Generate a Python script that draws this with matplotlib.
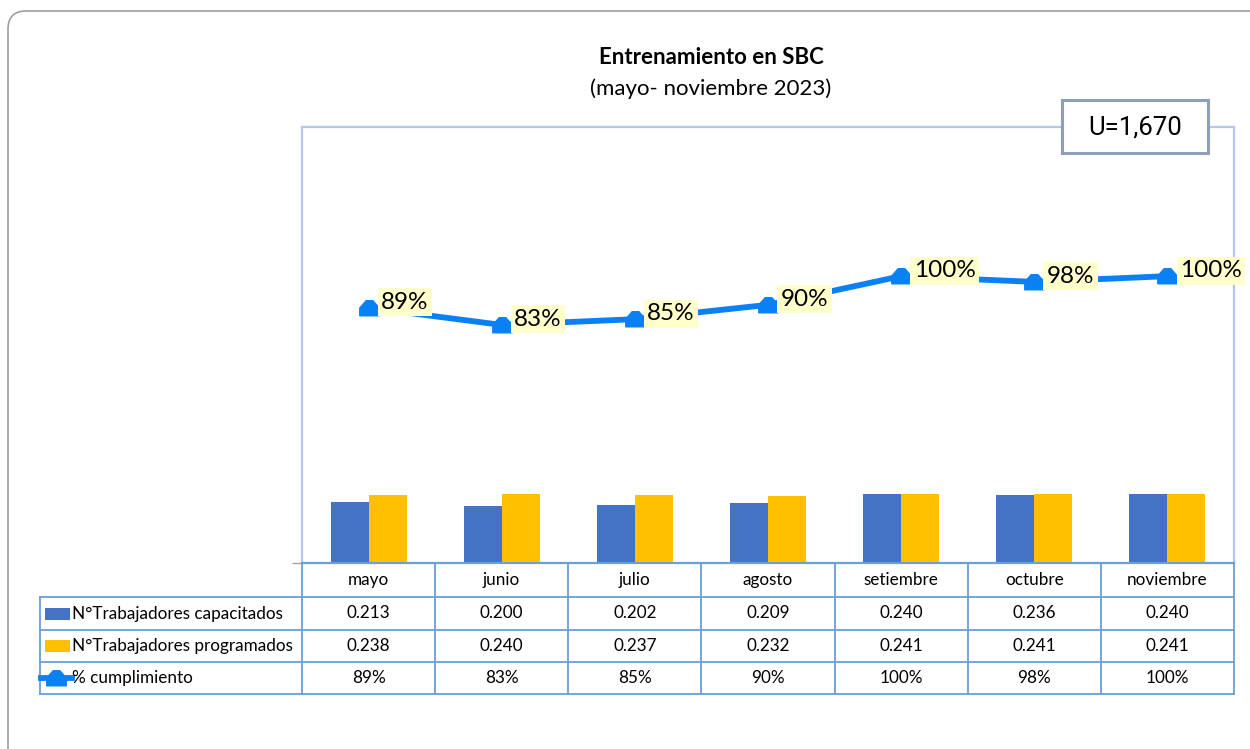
import matplotlib.pyplot as plt
import matplotlib.transforms as mtransforms
from matplotlib.patches import FancyBboxPatch, Rectangle
from matplotlib.lines import Line2D
from matplotlib.path import Path
import numpy as np

# datos
meses = ['mayo', 'junio', 'julio', 'agosto', 'setiembre', 'octubre', 'noviembre']
capacitados = [0.213, 0.200, 0.202, 0.209, 0.240, 0.236, 0.240]
programados = [0.238, 0.240, 0.237, 0.232, 0.241, 0.241, 0.241]
cumplimiento = [0.89, 0.83, 0.85, 0.90, 1.00, 0.98, 1.00]
series = ['N°Trabajadores capacitados', 'N°Trabajadores programados', '% cumplimiento']

AZUL = '#4472C4'
NARANJA = '#FFC000'
LINEA = '#0A80F5'
BORDE_TABLA = '#6A9FD8'
FONT = ['Lato', 'DejaVu Sans']

plt.rcParams['font.family'] = FONT

# marcador tipo "casita" como el de Excel
casa = Path([(-1, -0.75), (1, -0.75), (1, 0.05), (0.35, 0.8), (-0.35, 0.8), (-1, 0.05),
             (-1, -0.75)], closed=True)

W, H = 1250, 749
fig = plt.figure(figsize=(W / 100, H / 100), dpi=100)

# fondo en coordenadas de pixel
bg = fig.add_axes([0, 0, 1, 1])
bg.set_xlim(0, W)
bg.set_ylim(H, 0)
bg.axis('off')
bg.add_patch(FancyBboxPatch((8, 11), 1300, 800, boxstyle='round,pad=0,rounding_size=18',
                            fc='white', ec='#9E9E9E', lw=1.2))
bg.text(711, 57, 'Entrenamiento en SBC', ha='center', va='center', fontsize=16,
        fontweight='bold')
bg.text(711, 89, '(mayo- noviembre 2023)', ha='center', va='center', fontsize=16)


def px(l, t, r, b):
    return [l / W, 1 - b / H, (r - l) / W, (b - t) / H]


L, T, R, B = 302, 127, 1234, 563
ax = fig.add_axes(px(L, T, R, B))
x = np.arange(len(meses))
bw = 0.285
ax.bar(x - bw / 2, capacitados, bw, color=AZUL, zorder=2)
ax.bar(x + bw / 2, programados, bw, color=NARANJA, zorder=2)
ax.plot(x, cumplimiento, color=LINEA, lw=4.2, marker=casa, ms=14, zorder=3)
for xi, v in zip(x, cumplimiento):
    ax.annotate(f'{round(v * 100)}%', (xi, v), xytext=(9, 4), textcoords='offset points',
                ha='left', va='center', fontsize=17.5, zorder=4,
                bbox=dict(boxstyle='square,pad=0.14', fc='#FFFFCC', ec='none'))
ax.set_xlim(-0.5, len(meses) - 0.5)
ax.set_ylim(0, 1.52)
ax.set_xticks([])
ax.set_yticks([0])
ax.set_yticklabels([])
ax.tick_params(axis='y', length=7, color='#A6A6A6', width=1)
for s in ['left', 'top', 'right']:
    ax.spines[s].set_color('#B4C7E7')
    ax.spines[s].set_linewidth(1.6)
ax.spines['bottom'].set_color(BORDE_TABLA)
ax.spines['bottom'].set_linewidth(1.6)

# capa superior para la caja U y la tabla
top = fig.add_axes([0, 0, 1, 1])
top.set_xlim(0, W)
top.set_ylim(H, 0)
top.axis('off')
top.patch.set_alpha(0)

top.add_patch(Rectangle((1062, 100), 146, 53, fc='white', ec='#8EA0B8', lw=2.2, zorder=5))
top.text(1135, 127, 'U=1,670', ha='center', va='center', fontsize=18.5, zorder=6,
         family=['Roboto', 'DejaVu Sans'])

# tabla de datos: x en datos del eje, y en pixeles
tr = mtransforms.blended_transform_factory(ax.transData, top.transData)
filas = [563, 597, 630, 662, 694]
x_izq = -0.5 - (L - 40) / ((R - L) / len(meses))
for k in range(len(meses) + 1):
    top.add_line(Line2D([k - 0.5, k - 0.5], [filas[0], filas[-1]], transform=tr,
                        color=BORDE_TABLA, lw=1.3))
top.add_line(Line2D([x_izq, x_izq], [filas[1], filas[-1]], transform=tr,
                    color=BORDE_TABLA, lw=1.3))
for yy in filas[1:]:
    top.add_line(Line2D([x_izq, len(meses) - 0.5], [yy, yy], transform=tr,
                        color=BORDE_TABLA, lw=1.3))

tfs = 12.3
for i, m in enumerate(meses):
    yc = (filas[0] + filas[1]) / 2
    top.text(i, yc, m, transform=tr, ha='center', va='center', fontsize=tfs)
valores = [[f'{v:.3f}' for v in capacitados],
           [f'{v:.3f}' for v in programados],
           [f'{round(v * 100)}%' for v in cumplimiento]]
for r in range(3):
    yc = (filas[r + 1] + filas[r + 2]) / 2
    for i, t in enumerate(valores[r]):
        top.text(i, yc, t, transform=tr, ha='center', va='center', fontsize=tfs)
    top.text(72, yc, series[r], ha='left', va='center', fontsize=tfs)

# claves de leyenda
y1 = (filas[1] + filas[2]) / 2
y2 = (filas[2] + filas[3]) / 2
y3 = (filas[3] + filas[4]) / 2
top.add_patch(Rectangle((45, y1 - 6), 25, 12, fc=AZUL, ec='none'))
top.add_patch(Rectangle((45, y2 - 6), 25, 12, fc=NARANJA, ec='none'))
top.add_line(Line2D([41, 72], [y3, y3], color=LINEA, lw=4.2))
top.add_line(Line2D([56], [y3], color=LINEA, marker=casa, ms=14, lw=0))

fig.savefig('out.png', dpi=100)
